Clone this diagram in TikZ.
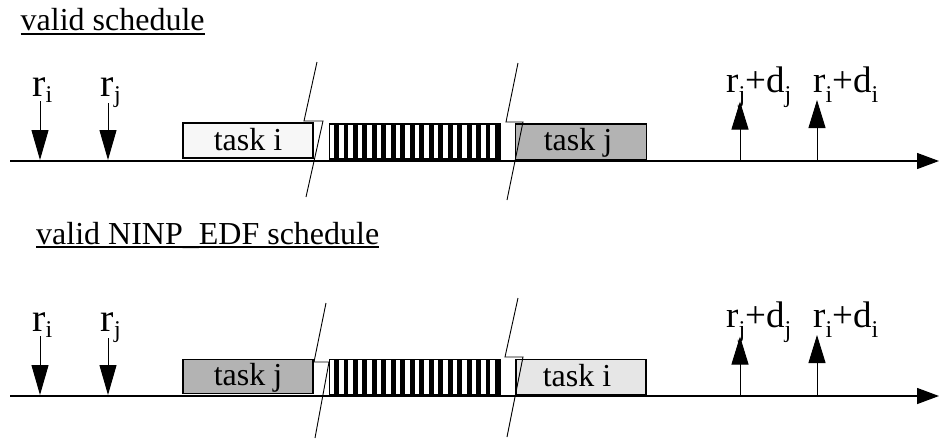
\documentclass[tikz,border=0pt]{standalone}
\usepackage{fontspec}
\setmainfont{Liberation Serif}
\usetikzlibrary{arrows.meta}
\newcommand\lsub[1]{\raisebox{-6pt}{\fontsize{24}{26}\selectfont #1}}
\newcommand\dsub[1]{\raisebox{-10pt}{\fontsize{24}{26}\selectfont #1}}
\definecolor{lightfill}{RGB}{247,247,247}
\definecolor{midfill}{RGB}{230,230,230}
\definecolor{darkfill}{RGB}{179,179,179}
\begin{document}
\begin{tikzpicture}[x=1pt,y=-1pt,
  head/.style={inner sep=0pt,anchor=base west,font=\fontsize{32}{38}\selectfont},
  tasklbl/.style={inner sep=0pt,anchor=base,font=\fontsize{32}{38}\selectfont},
  rlbl/.style={inner sep=0pt,anchor=base west,font=\fontsize{40}{44}\selectfont},
  dlbl/.style={inner sep=0pt,anchor=base west,font=\fontsize{37}{40}\selectfont},
  taskbox/.style={draw,line width=1.1pt},
  brk/.style={line width=0.9pt},
  ulin/.style={line width=1.5pt},
  axis/.style={line width=1.3pt,-{Triangle[length=22pt,width=16pt]}},
  relarr/.style={line width=1pt,-{Triangle[length=30pt,width=17pt]}},
  dlarr/.style={line width=1pt,-{Triangle[length=28pt,width=17pt]}},
]
\useasboundingbox (0,0) rectangle (940,440);

% ---------------- top: valid schedule ----------------
\node[head] (h1) at (20.5,30.7) {valid schedule};
\draw[ulin] ([yshift=-3.2pt]h1.base west) -- ([yshift=-3.2pt]h1.base east);

% boxes
\node[taskbox,fill=lightfill,minimum width=130pt,minimum height=35pt,inner sep=0pt] (ti1) at (248,140.5) {};
\node[tasklbl] (ti1t) at (248,150) {task i};
\node[taskbox,fill=darkfill,minimum width=131pt,minimum height=36pt,inner sep=0pt] (tj1) at (581,142) {};
\node[tasklbl] (tj1t) at (578,150) {task j};
% hatched
\foreach \k in {0,...,17}{
  \fill (329.3+\k*9.48+4.74,124) rectangle (329.3+\k*9.48+9.48,159);
}
\node[draw,line width=1.1pt,minimum width=170.7pt,minimum height=35pt,inner sep=0pt] (hb1) at (414.65,141.5) {};

% axis
\coordinate (a1s) at (10,161);
\coordinate (a1e) at (939,161);
\draw[axis] (a1s) -- (a1e);

% break lines
\draw[brk] (317,62) -- (304,121) -- (323,121) -- (306,197);
\draw[brk] (518,63) -- (506,122) -- (523,122) -- (507,200);

% release arrows
\coordinate (ri1a) at (40,101); \coordinate (ri1b) at (40,160);
\coordinate (rj1a) at (108,103); \coordinate (rj1b) at (108,160);
\draw[relarr] (ri1a) -- (ri1b);
\draw[relarr] (rj1a) -- (rj1b);
\node[rlbl] (ri1) at (32,96) {r\lsub{i}};
\node[rlbl] (rj1) at (100.5,96) {r\lsub{j}};

% deadline arrows
\coordinate (dj1a) at (740,161); \coordinate (dj1b) at (740,101.5);
\coordinate (di1a) at (817,161); \coordinate (di1b) at (817,100);
\draw[dlarr] (dj1a) -- (dj1b);
\draw[dlarr] (di1a) -- (di1b);
\node[dlbl] (dj1) at (726,92.5) {r\dsub{j}+d\dsub{j}};
\node[dlbl] (di1) at (813,92.5) {r\dsub{i}+d\dsub{i}};

% ---------------- bottom: valid NINP_EDF schedule ----------------
\node[head] (h2) at (36,244) {valid NINP\_EDF schedule};
\draw[ulin] ([yshift=-3.2pt]h2.base west) -- ([yshift=-3.2pt]h2.base east);

\node[taskbox,fill=darkfill,minimum width=130pt,minimum height=34pt,inner sep=0pt] (tj2) at (248,376.3) {};
\node[tasklbl] (tj2t) at (248,385) {task j};
\node[taskbox,fill=midfill,minimum width=130pt,minimum height=35.5pt,inner sep=0pt] (ti2) at (581,377.2) {};
\node[tasklbl] (ti2t) at (577,386.5) {task i};
\foreach \k in {0,...,17}{
  \fill (329.3+\k*9.48+4.74,359.3) rectangle (329.3+\k*9.48+9.48,394.3);
}
\node[draw,line width=1.1pt,minimum width=170.7pt,minimum height=35pt,inner sep=0pt] (hb2) at (414.65,376.8) {};

\coordinate (a2s) at (10,396);
\coordinate (a2e) at (939,396);
\draw[axis] (a2s) -- (a2e);

\draw[brk] (326,303) -- (314,362) -- (329,362) -- (315,438);
\draw[brk] (518,298) -- (505,357) -- (523,357) -- (507,437);

\coordinate (ri2a) at (40,336); \coordinate (ri2b) at (40,395);
\coordinate (rj2a) at (108,338); \coordinate (rj2b) at (108,395);
\draw[relarr] (ri2a) -- (ri2b);
\draw[relarr] (rj2a) -- (rj2b);
\node[rlbl] (ri2) at (32,331) {r\lsub{i}};
\node[rlbl] (rj2) at (100.5,331) {r\lsub{j}};

\coordinate (dj2a) at (740,396); \coordinate (dj2b) at (740,336.5);
\coordinate (di2a) at (817,396); \coordinate (di2b) at (817,335);
\draw[dlarr] (dj2a) -- (dj2b);
\draw[dlarr] (di2a) -- (di2b);
\node[dlbl] (dj2) at (726,327.5) {r\dsub{j}+d\dsub{j}};
\node[dlbl] (di2) at (813,327.5) {r\dsub{i}+d\dsub{i}};
\end{tikzpicture}
\end{document}
